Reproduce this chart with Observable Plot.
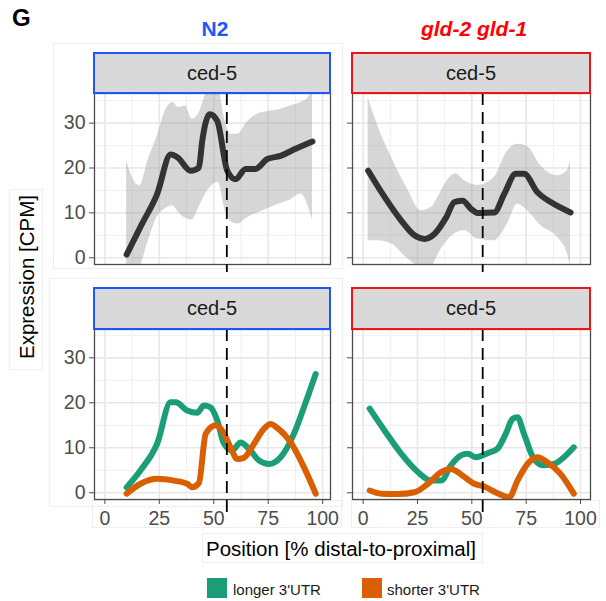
<!DOCTYPE html>
<html>
<head>
<meta charset="utf-8">
<script src="https://cdn.jsdelivr.net/npm/d3@7"></script>
<script src="https://cdn.jsdelivr.net/npm/@observablehq/plot@0.6"></script>
<style>
  body { margin: 0; background: #fff; }
  #fig { position: relative; width: 606px; height: 601px; overflow: hidden;
         font-family: "Liberation Sans", Arial, Helvetica, sans-serif; background: #fff; }
  #fig svg { position: absolute; overflow: visible; }
  .strip { position: absolute; box-sizing: border-box; background: #d9d9d9; border: 2px solid;
           display: flex; align-items: center; justify-content: center; font-size: 20px; color: #1a1a1a; }
  .faint { position: absolute; box-sizing: border-box; border: 1px solid #efefef; }
  .txt { position: absolute; white-space: nowrap; }
  .key { position: absolute; width: 20px; height: 20px; }
</style>
</head>
<body>
<div id="fig"></div>
<script>
// Axis ticks
const positionTicks = [0, 25, 50, 75, 100];
const positionMinor = [12.5, 37.5, 62.5, 87.5];
const cpmTicks = [0, 10, 20, 30];
const cpmMinor = [5, 15, 25, 35];

// Genotypes and gene
const genotypes = ["N2", "gld-2 gld-1"];
const gene = "ced-5";
const isoforms = ["longer 3'UTR", "shorter 3'UTR"];
const isoformColors = ["#1b9e77", "#d95f02"];

// Distal/proximal boundary (% position)
const boundaryN2 = 56;
const boundaryGld = 55;

// N2: total expression, smoothed, with confidence band
const n2Pos = [10, 17, 24, 30.2, 33.3, 39.4, 43.2, 44.7, 48.2, 51.6, 56.2, 60, 64.6, 69.2, 74.6, 80.7, 86.8, 95.3];
const n2Cpm = [0.7, 7.5, 14.2, 23, 22.4, 19.4, 20.1, 26, 32, 30.5, 19.4, 17.5, 19.8, 19.8, 22, 22.7, 24.1, 25.9];
const n2BandPos = [10, 13, 16, 20, 24, 28, 31, 34, 37, 40, 43, 46, 49, 52, 55, 58, 61, 65, 70, 75, 80, 85, 90, 93, 95.3];
const n2Upper = [21.6, 17.5, 16, 22, 27, 33, 34.6, 33.5, 33.8, 30.9, 32, 36, 39, 38, 31, 27.5, 27.5, 30, 32, 32.6, 33, 33.8, 34.6, 35.5, 37.5];
const n2Lower = [-3, -3, -2, 3.8, 9, 11, 11.6, 10, 8.8, 8.4, 11, 14, 16, 16.8, 11, 8, 7.5, 8.8, 10, 11, 12, 12.8, 14.2, 12, 8.3];

// gld-2 gld-1: total expression, smoothed, with confidence band
const gldPos = [2.3, 9.9, 17.5, 23.6, 28.2, 32.8, 38.2, 42, 45.8, 49.6, 52.7, 60.3, 64.9, 70.2, 74, 80.2, 86.3, 95.4];
const gldCpm = [19.4, 13.5, 8.3, 5, 4.2, 5.3, 9, 12.4, 12.7, 10.9, 10, 10.1, 14.2, 18.7, 18.7, 14.6, 12.4, 10.1];
const gldBandPos = [2.3, 7, 13, 20, 26.7, 31.3, 35, 38.2, 42.7, 46.5, 52.7, 60.3, 66.4, 71, 75.6, 81.7, 89.3, 93.9, 95.4];
const gldUpper = [35.7, 29, 22.4, 15.7, 10.5, 11.2, 14, 16.8, 18.7, 17.2, 16.1, 17.9, 23.8, 25.3, 24.8, 20.5, 18.3, 19.4, 21.6];
const gldLower = [3.8, 3.8, 3.1, 0, -2, -2, 1.2, 3.5, 5.5, 6.1, 4.2, 3.8, 7.5, 12, 10.5, 7.2, 4.6, 1, -2];

// N2: 3'UTR isoforms
const n2LongPos = [10, 16.4, 24, 30.2, 32.5, 37.8, 42.4, 45.5, 48.5, 51.6, 54.7, 58.5, 62.3, 66.1, 70.7, 75.3, 80.7, 86.8, 91.4, 96.8];
const n2LongCpm = [1.2, 5, 10.9, 20.1, 20.1, 18.3, 17.8, 19.4, 19, 16.1, 10.9, 9.4, 11.2, 9.8, 7.2, 6.4, 7.9, 13.1, 19, 26.4];
const n2ShortPos = [10, 16.4, 24, 31.7, 37.8, 40.1, 43.2, 46.3, 50.9, 53.9, 57.7, 60.8, 63.9, 68.5, 73, 76.1, 79.2, 85.3, 91.4, 96.8];
const n2ShortCpm = [-0.2, 2, 3.1, 2.7, 2, 1.2, 2.2, 13.1, 15, 13.8, 10.1, 7.5, 7.8, 10.9, 14.2, 15.3, 14.4, 11.2, 5.7, -0.2];

// gld-2 gld-1: 3'UTR isoforms
const gldLongPos = [3, 9.9, 17.5, 25.2, 31.3, 35.9, 40.4, 45, 48.1, 51.9, 57.3, 61.8, 65.6, 68.7, 71, 74, 78.6, 83.2, 87.8, 92.4, 96.9];
const gldLongCpm = [18.7, 13.8, 8.7, 4.6, 2.7, 2.7, 6.1, 8.3, 8.7, 7.9, 8.8, 9.8, 13.1, 16.4, 16.8, 13.1, 7.5, 6.1, 6.4, 7.9, 10.1];
const gldShortPos = [3, 8.4, 16, 23.6, 29.8, 35.9, 40.4, 45.8, 51.1, 55.7, 61.8, 67.2, 71, 75.6, 80.2, 84.7, 90.8, 96.9];
const gldShortCpm = [0.5, -0.2, -0.3, 0.1, 2, 4.6, 5.3, 3.8, 2, 1.4, -0.1, -1, 2.7, 6.4, 7.9, 6.8, 4.2, -0.2];

const zip = (xs, ys) => xs.map((x, i) => ({x, y: ys[i]}));
const band = (xs, lo, hi) => xs.map((x, i) => ({x, lo: lo[i], hi: hi[i]}));

const fig = document.getElementById("fig");

function el(cls, css, text) {
  const d = document.createElement("div");
  d.className = cls;
  Object.assign(d.style, css);
  if (text != null) d.textContent = text;
  fig.appendChild(d);
  return d;
}

// faint layout boxes
el("faint", {left: "9px", top: "189px", width: "34px", height: "181px"});
el("faint", {left: "53px", top: "43px", width: "290px", height: "226px"});
el("faint", {left: "49px", top: "278px", width: "294px", height: "229px"});
el("faint", {left: "92px", top: "500px", width: "250px", height: "28px"});
el("faint", {left: "351px", top: "500px", width: "249px", height: "28px"});
el("faint", {left: "202px", top: "533px", width: "281px", height: "30px"});

function panel({left, top, plotW, plotH, mLeft, mBottom, xDomain, yDomain, showX, showYLabels, boundary, dashEnd, layers}) {
  const chart = Plot.plot({
    width: mLeft + plotW + 6,
    height: 2 + plotH + mBottom,
    marginLeft: mLeft, marginRight: 6, marginTop: 2, marginBottom: mBottom,
    x: {domain: xDomain, ticks: positionTicks, axis: showX ? "bottom" : null, label: null, tickSize: 5, tickPadding: 7},
    y: {domain: yDomain, ticks: cpmTicks, label: null, tickSize: 5, tickPadding: 4,
        tickFormat: showYLabels ? (d => String(d)) : (() => "")},
    style: {background: "transparent", color: "#4d4d4d", fontSize: "19.5px",
            fontFamily: "'Liberation Sans', Arial, Helvetica, sans-serif", overflow: "visible"},
    marks: [
      Plot.ruleX(positionMinor, {stroke: "#efefef", strokeWidth: 1}),
      Plot.ruleY(cpmMinor, {stroke: "#efefef", strokeWidth: 1}),
      Plot.ruleX(positionTicks, {stroke: "#e8e8e8", strokeWidth: 1.6}),
      Plot.ruleY(cpmTicks, {stroke: "#e8e8e8", strokeWidth: 1.6}),
      ...layers,
      Plot.frame({stroke: "#4d4d4d", strokeWidth: 1.3}),
      Plot.ruleX([boundary], {y1: yDomain[1], y2: dashEnd, stroke: "#000", strokeWidth: 1.8, strokeDasharray: "12,7"})
    ]
  });
  chart.style.left = (left - mLeft) + "px";
  chart.style.top = (top - 2) + "px";
  fig.appendChild(chart);
}

const xLeft = [-4.75, 103.6];
const xRight = [-4.9, 104.6];
const yTop = [-1.5, 36.6];
const yBottom = [-1.5, 36.3];

function smooth(xs, ys, color) {
  return Plot.line(zip(xs, ys), {x: "x", y: "y", stroke: color, strokeWidth: 6, curve: "monotone-x", clip: true});
}
function ribbon(xs, lo, hi) {
  return Plot.areaY(band(xs, lo, hi), {x: "x", y1: "lo", y2: "hi", fill: "#999", fillOpacity: 0.4, curve: "monotone-x", clip: true});
}

// Top row: total expression
panel({left: 94, top: 93, plotW: 236, plotH: 171, mLeft: 50, mBottom: 12, xDomain: xLeft, yDomain: yTop,
       showX: false, showYLabels: true, boundary: boundaryN2, dashEnd: -3.3,
       layers: [ribbon(n2BandPos, n2Lower, n2Upper), smooth(n2Pos, n2Cpm, "#333333")]});
panel({left: 352, top: 93, plotW: 238, plotH: 171, mLeft: 10, mBottom: 12, xDomain: xRight, yDomain: yTop,
       showX: false, showYLabels: false, boundary: boundaryGld, dashEnd: -3.3,
       layers: [ribbon(gldBandPos, gldLower, gldUpper), smooth(gldPos, gldCpm, "#333333")]});

// Bottom row: 3'UTR isoforms
panel({left: 94, top: 329, plotW: 236, plotH: 170, mLeft: 50, mBottom: 34, xDomain: xLeft, yDomain: yBottom,
       showX: true, showYLabels: true, boundary: boundaryN2, dashEnd: -5.2,
       layers: [smooth(n2LongPos, n2LongCpm, isoformColors[0]), smooth(n2ShortPos, n2ShortCpm, isoformColors[1])]});
panel({left: 352, top: 329, plotW: 238, plotH: 170, mLeft: 10, mBottom: 34, xDomain: xRight, yDomain: yBottom,
       showX: true, showYLabels: false, boundary: boundaryGld, dashEnd: -5.2,
       layers: [smooth(gldLongPos, gldLongCpm, isoformColors[0]), smooth(gldShortPos, gldShortCpm, isoformColors[1])]});

// Strips
el("strip", {left: "93px", top: "52px", width: "238px", height: "42px", borderColor: "#1f55ff"}, gene);
el("strip", {left: "351px", top: "52px", width: "240px", height: "42px", borderColor: "#f01515"}, gene);
el("strip", {left: "93px", top: "287px", width: "238px", height: "43px", borderColor: "#1f55ff"}, gene);
el("strip", {left: "351px", top: "287px", width: "240px", height: "43px", borderColor: "#f01515"}, gene);

// Titles
el("txt", {left: "12px", top: "4px", fontSize: "24px", fontWeight: "bold", color: "#000"}, "G");
el("txt", {left: "215px", top: "17px", fontSize: "21px", fontWeight: "bold", color: "#1f55ff", transform: "translateX(-50%)"}, genotypes[0]);
el("txt", {left: "474px", top: "17px", fontSize: "21px", fontWeight: "bold", fontStyle: "italic", color: "#ff0000", transform: "translateX(-50%)"}, genotypes[1]);

// Axis titles
el("txt", {left: "27px", top: "277px", fontSize: "20.5px", color: "#000", transform: "translate(-50%,-50%) rotate(-90deg)"}, "Expression [CPM]");
el("txt", {left: "341px", top: "549px", fontSize: "20.5px", color: "#000", transform: "translate(-50%,-50%)"}, "Position [% distal-to-proximal]");

// Legend
el("key", {left: "207px", top: "578px", background: isoformColors[0]});
el("txt", {left: "233px", top: "589px", fontSize: "15px", color: "#1a1a1a", transform: "translateY(-50%)"}, isoforms[0]);
el("key", {left: "362px", top: "578px", background: isoformColors[1]});
el("txt", {left: "387px", top: "589px", fontSize: "15px", color: "#1a1a1a", transform: "translateY(-50%)"}, isoforms[1]);
</script>
</body>
</html>
